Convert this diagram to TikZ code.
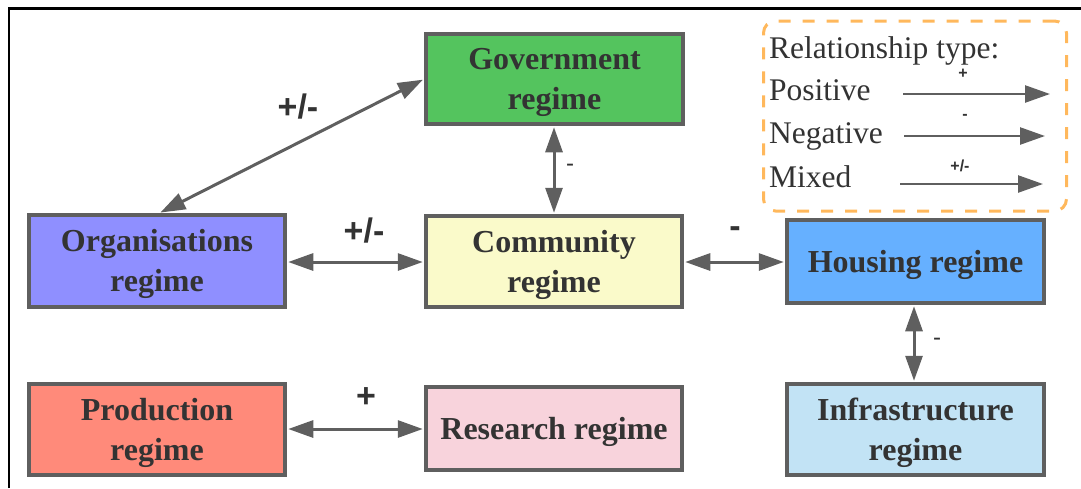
\documentclass[tikz,border=0pt]{standalone}
\usepackage{fontspec}
\setmainfont{Liberation Serif}
\newfontfamily\lblfont{Liberation Sans}
\usetikzlibrary{arrows.meta}
\definecolor{edgegray}{HTML}{5F5F5F}
\definecolor{txtgray}{HTML}{333333}
\definecolor{govgreen}{HTML}{54C45E}
\definecolor{orgblue}{HTML}{8F8FFF}
\definecolor{comyellow}{HTML}{FAFACA}
\definecolor{housblue}{HTML}{66B0FF}
\definecolor{prodred}{HTML}{FF8A7A}
\definecolor{respink}{HTML}{F8D3DC}
\definecolor{infblue}{HTML}{C2E3F5}
\definecolor{legorange}{HTML}{FFB85C}
\tikzset{
  regime/.style={draw=edgegray, line width=3.5pt, inner sep=0pt},
  regtext/.style={align=center, inner sep=0pt, yshift=-3pt,
    text=txtgray, font=\fontsize{32}{40}\selectfont\bfseries},
  link/.style={edgegray, line width=3pt, {Triangle[width=17pt,length=25pt]}-{Triangle[width=17pt,length=25pt]}},
  legarrow/.style={edgegray, line width=2.5pt, -{Triangle[width=17pt,length=25pt]}},
  biglbl/.style={text=txtgray, font=\lblfont\fontsize{34}{36}\selectfont\bfseries, inner sep=0pt},
  smalllbl/.style={text=txtgray, font=\lblfont\fontsize{24}{26}\selectfont, inner sep=0pt},
  leglbl/.style={text=txtgray, font=\lblfont\fontsize{16}{18}\selectfont\bfseries, inner sep=0pt},
  legtext/.style={text=txtgray, font=\fontsize{31.5}{33}\selectfont, inner sep=0pt, anchor=base west},
}
\begin{document}
\begin{tikzpicture}[x=1pt,y=-1pt]
\useasboundingbox (0,0) rectangle (1081,488);
% frame
\draw[black, line width=2.5pt] (9,488) -- (9,8.5) -- (1081,8.5);
% legend
\node[draw=legorange, line width=3pt, dash pattern=on 12pt off 12pt, rounded corners=12pt,
  minimum width=303pt, minimum height=190pt, inner sep=0pt] (legend) at (915,116) {};
\node[legtext] (lt0) at (769,58) {Relationship type:};
\node[legtext] (lt1) at (769,100) {Positive};
\node[legtext] (lt2) at (769,143) {Negative};
\node[legtext] (lt3) at (769,187) {Mixed};
\coordinate (p1a) at (903,94); \coordinate (p1b) at (1050,94);
\coordinate (p2a) at (904,136); \coordinate (p2b) at (1045,136);
\coordinate (p3a) at (900,184); \coordinate (p3b) at (1043,184);
\draw[legarrow] (p1a) -- (p1b);
\draw[legarrow] (p2a) -- (p2b);
\draw[legarrow] (p3a) -- (p3b);
\node[leglbl] (l1) at (963,74) {+};
\node[leglbl] (l2) at (965,117) {-};
\node[leglbl] (l3) at (960,166) {+/-};
% regimes
\node[regime, fill=govgreen, minimum width=257pt, minimum height=90pt] (gov) at (554.5,79) {};
\node[regime, fill=orgblue, minimum width=256pt, minimum height=92pt] (org) at (157,261) {};
\node[regime, fill=comyellow, minimum width=256pt, minimum height=91pt] (com) at (554,261.5) {};
\node[regime, fill=housblue, minimum width=257pt, minimum height=83pt] (hou) at (915.5,261.5) {};
\node[regime, fill=prodred, minimum width=256pt, minimum height=91pt] (pro) at (157,429.5) {};
\node[regime, fill=respink, minimum width=256pt, minimum height=83pt] (res) at (554,428.5) {};
\node[regime, fill=infblue, minimum width=257pt, minimum height=91pt] (inf) at (915.5,429.5) {};
\node[regtext] (govt) at (gov.center) {Government\\regime};
\node[regtext] (orgt) at (org.center) {Organisations\\regime};
\node[regtext] (comt) at (com.center) {Community\\regime};
\node[regtext] (hout) at (hou.center) {Housing regime};
\node[regtext] (prot) at (pro.center) {Production\\regime};
\node[regtext] (rest) at (res.center) {Research regime};
\node[regtext] (inft) at (inf.center) {Infrastructure\\regime};
% links
\draw[link, shorten <=1.5pt, shorten >=1.5pt] (org.north -| 159,0) -- (gov.west |- 0,79);
\draw[link, shorten <=1.5pt, shorten >=1.5pt] (org.east |- 0,262) -- (com.west |- 0,262);
\draw[link, shorten <=1.5pt, shorten >=1.5pt] (com.east |- 0,262) -- (hou.west |- 0,262);
\draw[link, shorten <=1.5pt, shorten >=1.5pt] (gov.south -| 554,0) -- (com.north -| 554,0);
\draw[link, shorten <=1.5pt, shorten >=1.5pt] (pro.east |- 0,429) -- (res.west |- 0,429);
\draw[link, shorten <=1.5pt, shorten >=1.5pt] (hou.south -| 914,0) -- (inf.north -| 914,0);
% labels
\node[biglbl] (e1) at (298,107) {+/-};
\node[biglbl] (e2) at (364,231) {+/-};
\node[biglbl] (e3) at (735,232) {-};
\node[biglbl] (e4) at (366,398) {+};
\node[smalllbl] (e5) at (570,168) {-};
\node[smalllbl] (e6) at (937,342) {-};
\end{tikzpicture}
\end{document}
